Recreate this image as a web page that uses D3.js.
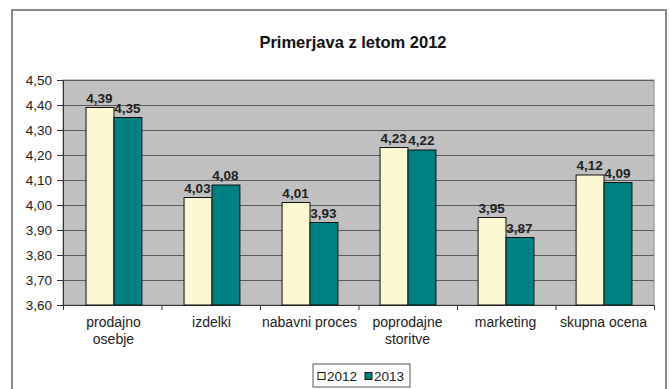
<!DOCTYPE html>
<html><head><meta charset="utf-8">
<script src="https://cdn.jsdelivr.net/npm/d3@7"></script>
<style>body{margin:0;background:#fff;}svg{display:block;font-family:"Liberation Sans",Arial,sans-serif;}</style>
</head><body><svg id="c" width="669" height="389"></svg>
<script>
const categories = [["prodajno","osebje"],["izdelki"],["nabavni proces"],["poprodajne","storitve"],["marketing"],["skupna ocena"]];
const series2012 = [4.39, 4.03, 4.01, 4.23, 3.95, 4.12];
const series2013 = [4.35, 4.08, 3.93, 4.22, 3.87, 4.09];
const seriesNames = ["2012","2013"];
const yTicks = [3.6,3.7,3.8,3.9,4.0,4.1,4.2,4.3,4.4,4.5];
const colors = ["#FCF8D2","#008080"];
const fmt = v => v.toFixed(2).replace(".", ",");

const svg = d3.select("#c");
// frame
svg.append("rect").attr("x",12).attr("y",10).attr("width",654).attr("height",390)
  .attr("fill","#fff").attr("stroke","#8a8a8a").attr("stroke-width",2);

const m = {l:63, r:654, t:80, b:305};
const x0 = d3.scaleBand().domain(d3.range(categories.length)).range([m.l, m.r]).paddingInner(0.43).paddingOuter(0.23);
const x1 = d3.scaleBand().domain([0,1]).range([0, x0.bandwidth()]);
const y = d3.scaleLinear().domain([3.6,4.5]).range([m.b, m.t]);

svg.append("rect").attr("x",m.l).attr("y",m.t).attr("width",m.r-m.l).attr("height",m.b-m.t)
  .attr("fill","#C0C0C0").attr("stroke","#8c8c8c");

svg.append("g").selectAll("line").data(yTicks.slice(1)).join("line")
  .attr("x1",m.l).attr("x2",m.r).attr("y1",d=>Math.round(y(d))+0.5).attr("y2",d=>Math.round(y(d))+0.5)
  .attr("stroke","#5a5a5a").attr("stroke-width",1);

// y axis
const ya = svg.append("g").attr("transform",`translate(${m.l},0)`)
  .call(d3.axisLeft(y).tickValues(yTicks).tickFormat(fmt).tickSize(6).tickPadding(5));
ya.select(".domain").attr("stroke","#333");
ya.selectAll(".tick line").attr("stroke","#333");
ya.selectAll("text").attr("font-size",13.5).attr("fill","#222").attr("font-family","Liberation Sans, Arial, sans-serif");

// x axis
const xa = svg.append("g").attr("transform",`translate(0,${m.b})`)
  .call(d3.axisBottom(d3.scaleLinear().domain([0,6]).range([m.l,m.r])).tickValues(d3.range(0,7)).tickSize(5).tickFormat(""));
xa.select(".domain").attr("stroke","#333");
xa.selectAll(".tick line").attr("stroke","#333");

const data = categories.map((c,i)=>({i, vals:[series2012[i], series2013[i]]}));
const g = svg.append("g").selectAll("g").data(data).join("g")
  .attr("transform",d=>`translate(${x0(d.i)},0)`);
g.selectAll("rect").data(d=>d.vals.map((v,k)=>({v,k}))).join("rect")
  .attr("x",d=>x1(d.k)+0.5).attr("y",d=>y(d.v)).attr("width",x1.bandwidth()).attr("height",d=>m.b-y(d.v))
  .attr("fill",d=>colors[d.k]).attr("stroke","#111").attr("stroke-width",1);
g.selectAll("text").data(d=>d.vals.map((v,k)=>({v,k}))).join("text")
  .attr("x",d=>x1(d.k)+x1.bandwidth()/2).attr("y",d=>y(d.v)-5)
  .attr("text-anchor","middle").attr("font-size",13.5).attr("font-weight","bold").attr("fill","#222")
  .text(d=>fmt(d.v));

// category labels
const cl = svg.append("g").selectAll("text").data(categories).join("text")
  .attr("x",(d,i)=>x0(i)+x0.bandwidth()/2).attr("y",327)
  .attr("text-anchor","middle").attr("font-size",14).attr("fill","#222");
cl.selectAll("tspan").data(d=>d).join("tspan")
  .attr("x",function(){return this.parentNode.getAttribute("x");}).attr("dy",(d,j)=>j?17:0).text(d=>d);

// title
svg.append("text").attr("x",353).attr("y",48).attr("text-anchor","middle")
  .attr("font-size",16.5).attr("font-weight","bold").attr("fill","#111").text("Primerjava z letom 2012");

// legend
const lg = svg.append("g").attr("transform","translate(313,364)");
lg.append("rect").attr("width",97).attr("height",23).attr("fill","#fff").attr("stroke","#555");
seriesNames.forEach((s,k)=>{
  const gx = 5 + k*47;
  lg.append("rect").attr("x",gx).attr("y",8.5).attr("width",7).attr("height",7).attr("fill",colors[k]).attr("stroke","#111");
  lg.append("text").attr("x",gx+9).attr("y",17).attr("font-size",13.5).attr("fill","#222").text(s);
});
</script></body></html>
